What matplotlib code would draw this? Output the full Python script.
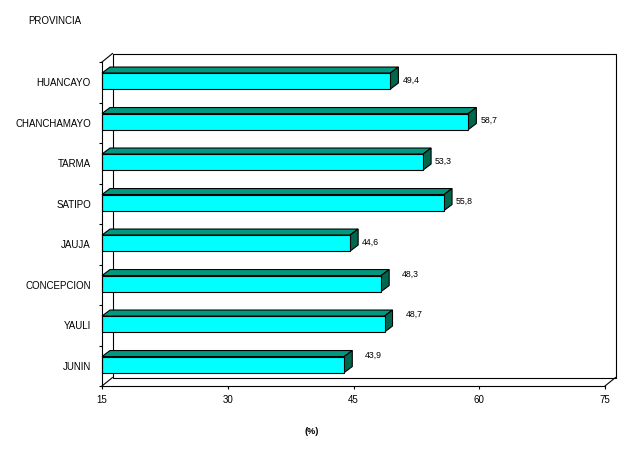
import matplotlib.pyplot as plt
from matplotlib.patches import Polygon, Rectangle
import numpy as np

plt.rcParams['font.family'] = ['Liberation Sans', 'DejaVu Sans']

# data, bottom to top
provincias = ['JUNIN', 'YAULI', 'CONCEPCION', 'JAUJA', 'SATIPO', 'TARMA', 'CHANCHAMAYO', 'HUANCAYO']
valores = [43.9, 48.7, 48.3, 44.6, 55.8, 53.3, 58.7, 49.4]
etiquetas = ['43,9', '48,7', '48,3', '44,6', '55,8', '53,3', '58,7', '49,4']
xticks = [15, 30, 45, 60, 75]

fig = plt.figure(figsize=(6.29, 4.57), dpi=100)
ax = fig.add_axes([102/629, (457-386)/457, 503/629, 324/457])
ax.set_xlim(15, 75)
ax.set_ylim(-0.5, 7.5)

# data units per pixel
px_x = 60 / 503
px_y = 8 / 324

lw = 0.8
cara = '#00FFFF'
techo = '#00997F'
lado = '#00664C'

# back wall
wx, wy = 10.5 * px_x, 8.5 * px_y
ax.add_patch(Rectangle((15 + wx, -0.5 + wy), 60, 8, facecolor='white', edgecolor='black',
                       lw=lw, clip_on=False, zorder=0))
for x0, y0 in [(15, -0.5), (75, -0.5), (15, 7.5)]:
    ax.plot([x0, x0 + wx], [y0, y0 + wy], color='black', lw=lw, clip_on=False, zorder=1)

# bars
bx, by = 8 * px_x, 6 * px_y
h = 0.395
for i, v in enumerate(valores):
    y0 = i + 0.03 - h / 2
    y1 = y0 + h
    ax.add_patch(Polygon([(15, y1), (v, y1), (v + bx, y1 + by), (15 + bx, y1 + by)],
                         closed=True, facecolor=techo, edgecolor='black', lw=lw,
                         clip_on=False, zorder=3))
    ax.add_patch(Polygon([(v, y0), (v + bx, y0 + by), (v + bx, y1 + by), (v, y1)],
                         closed=True, facecolor=lado, edgecolor='black', lw=lw,
                         clip_on=False, zorder=3))
    ax.add_patch(Rectangle((15, y0), v - 15, h, facecolor=cara, edgecolor='black', lw=lw,
                           clip_on=False, zorder=4))
    if i < 3:
        off = (21 * 0.72, 10.5 * 0.72)
    else:
        off = (12 * 0.72, 2 * 0.72)
    ax.annotate(etiquetas[i], (v, i), xytext=off, textcoords='offset points',
                ha='left', va='center', fontsize=6.3, zorder=5)

for s in ['top', 'right']:
    ax.spines[s].set_visible(False)
for s in ['left', 'bottom']:
    ax.spines[s].set_linewidth(lw)
    ax.spines[s].set_zorder(6)

ax.set_xticks(xticks)
ax.set_xticklabels([str(t) for t in xticks])
ax.set_yticks(range(len(provincias)))
ax.set_yticklabels(provincias)
ax.set_yticks(np.arange(-0.5, 8, 1), minor=True)
ax.tick_params(axis='x', length=2.2, width=lw, pad=4.5, labelsize=7)
ax.tick_params(axis='y', which='major', length=0, pad=8, labelsize=7)
ax.tick_params(axis='y', which='minor', length=2.2, width=lw)

fig.text(28/629, 1 - 21/457, 'PROVINCIA', ha='left', va='center', fontsize=7)
fig.text(312/629, 1 - 432/457, '(%)', ha='center', va='center', fontsize=6.5, fontweight='bold')

fig.savefig('out.png', dpi=100)
